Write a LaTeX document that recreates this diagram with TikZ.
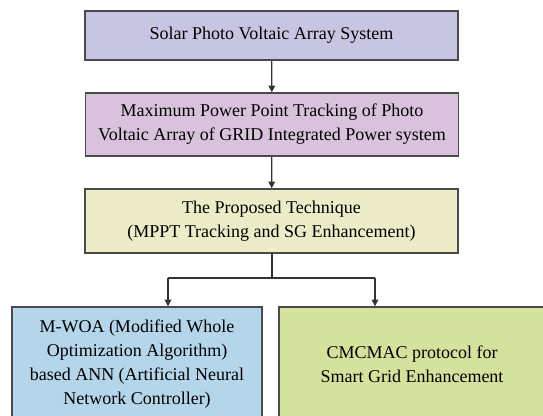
\documentclass[tikz,border=0pt]{standalone}
\usepackage{fontspec}
\setmainfont{Liberation Serif}
\usetikzlibrary{arrows.meta}

\definecolor{solarfill}{HTML}{C8C5E2}
\definecolor{mpptfill}{HTML}{D9C3DC}
\definecolor{techfill}{HTML}{ECEDC8}
\definecolor{annfill}{HTML}{B5D6EA}
\definecolor{macfill}{HTML}{D5E29E}
\definecolor{edge}{HTML}{4A4A4A}

\tikzset{
    block/.style = {draw = edge, line width = 1.1pt, align = center,
        inner sep = 2pt, font = \fontsize{13.5}{18}\selectfont},
    flow/.style = {draw = black!80, line width = 0.9pt,
        -{Triangle[width = 5pt, length = 5pt]}}
}

\begin{document}
\begin{tikzpicture}[x = 0.75pt, y = -0.75pt]
        \clip (0,0) rectangle (543,416);

        \node[block, fill = solarfill, minimum width = 279.75pt, minimum height = 36.75pt]
        (solar) at (271.5,35.5) {Solar Photo Voltaic Array System};

        \node[block, fill = mpptfill, minimum width = 279.75pt, minimum height = 47.25pt]
        (mppt) at (272,124.5) {Maximum Power Point Tracking of Photo\\
        Voltaic Array of GRID Integrated Power system};

        \node[block, fill = techfill, minimum width = 279.75pt, minimum height = 48pt]
        (tech) at (271.5,221) {The Proposed Technique\\
        (MPPT Tracking and SG Enhancement)};

        \node[block, fill = annfill, minimum width = 187.5pt, minimum height = 85.5pt]
        (ann) at (137,364) {M-WOA (Modified Whole\\
        Optimization Algorithm)\\
        based ANN (Artificial Neural\\
        Network Controller)};

        \node[block, fill = macfill, minimum width = 199.5pt, minimum height = 85.5pt]
        (mac) at (412,364) {CMCMAC protocol for\\
        Smart Grid Enhancement};

        \coordinate (split) at (272,278);
        \coordinate (splitL) at (168,278);
        \coordinate (splitR) at (375,278);

        \draw[flow] (solar) -- (mppt);
        \draw[flow] (mppt) -- (tech);

        \draw[draw = black!80, line width = 0.9pt] (tech.south -| split) -- (split);
        \draw[draw = black!80, line width = 0.9pt] (splitL) -- (splitR);
        \draw[flow] (splitL) -- (splitL |- ann.north);
        \draw[flow] (splitR) -- (splitR |- mac.north);
    \end{tikzpicture}
\end{document}
